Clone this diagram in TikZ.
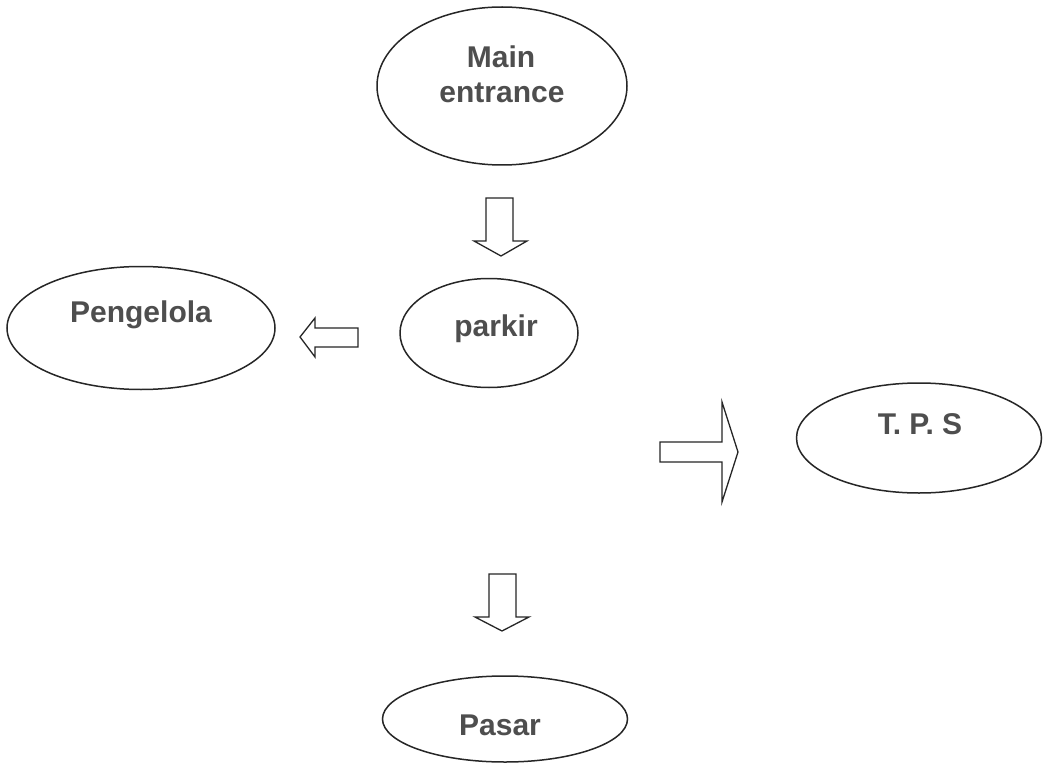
\documentclass[tikz,border=0pt]{standalone}
\usepackage{fontspec}
\setmainfont{Liberation Sans}
\usetikzlibrary{shapes.geometric}
\definecolor{txt}{HTML}{4E4E4E}
\definecolor{ln}{HTML}{262626}
\begin{document}
\begin{tikzpicture}[x=1pt,y=-1pt,
  oval/.style={draw=ln,line width=1.5pt,ellipse,inner sep=0pt},
  lbl/.style={anchor=base,text=txt,font=\fontsize{30}{35}\selectfont\bfseries,inner sep=0pt},
  blockarrow/.style={draw=ln,line width=1.3pt,line join=miter,fill=white}]
\useasboundingbox (0,0) rectangle (1047,765);
\fill[white] (0,0) rectangle (1047,765);
% ellipses
\node[oval,minimum width=250pt,minimum height=158pt] (main) at (502,86) {};
\node[oval,minimum width=178pt,minimum height=109pt] (parkir) at (489,333) {};
\node[oval,minimum width=268pt,minimum height=123pt] (peng) at (141,328) {};
\node[oval,minimum width=245pt,minimum height=110pt] (tps) at (919,438) {};
\node[oval,minimum width=245pt,minimum height=86pt] (pasar) at (505,719) {};
% labels
\node[lbl] (tmain) at (501,68) {Main};
\node[lbl] (tentr) at (502,103) {entrance};
\node[lbl] (tpark) at (496,336) {parkir};
\node[lbl] (tpeng) at (141,322) {Pengelola};
\node[lbl] (ttps) at (920,434) {T. P. S};
\node[lbl] (tpas) at (500,735) {Pasar};
% block arrows
\draw[blockarrow] (486,198) -- (513,198) -- (513,241) -- (527,241) -- (501,256) -- (474,241) -- (486,241) -- cycle;
\draw[blockarrow] (358,328) -- (315,328) -- (315,318) -- (300,337) -- (315,357) -- (315,347) -- (358,347) -- cycle;
\draw[blockarrow] (660,442) -- (722,442) -- (722,402) -- (738,452) -- (722,502) -- (722,462) -- (660,462) -- cycle;
\draw[blockarrow] (489,574) -- (516,574) -- (516,617) -- (529,617) -- (502,631) -- (475,617) -- (489,617) -- cycle;
\end{tikzpicture}
\end{document}
